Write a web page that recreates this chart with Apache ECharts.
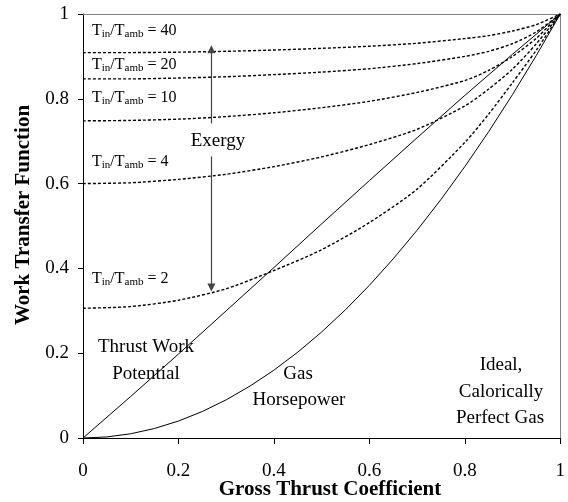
<!DOCTYPE html>
<html>
<head>
<meta charset="utf-8">
<script src="https://cdn.jsdelivr.net/npm/echarts@6/dist/echarts.min.js"></script>
<style>
  html, body { margin: 0; padding: 0; background: #fff; }
  #chart { width: 568px; height: 502px; }
</style>
</head>
<body>
<div id="chart"></div>
<script>
// Gross thrust coefficient sample points
const cfgGrid = [0, 0.1, 0.2, 0.3, 0.4, 0.5, 0.6, 0.7, 0.8, 0.85, 0.9, 0.95, 1];
const cfgFine = [0, 0.05, 0.1, 0.15, 0.2, 0.25, 0.3, 0.35, 0.4, 0.45, 0.5,
                 0.55, 0.6, 0.65, 0.7, 0.75, 0.8, 0.85, 0.9, 0.95, 1];
const cfgLine = [0, 0.1, 0.2, 0.3, 0.4, 0.5, 0.6, 0.7, 0.8, 0.9, 1];

// Exergy-based work transfer for several inlet/ambient temperature ratios
const ratio2  = [0.306, 0.310, 0.325, 0.352, 0.395, 0.444, 0.508, 0.587, 0.697, 0.764, 0.838, 0.915, 1];
const ratio4  = [0.600, 0.602, 0.610, 0.622, 0.640, 0.663, 0.692, 0.728, 0.783, 0.823, 0.870, 0.930, 1];
const ratio10 = [0.748, 0.749, 0.752, 0.758, 0.767, 0.779, 0.794, 0.815, 0.843, 0.867, 0.900, 0.943, 1];
const ratio20 = [0.847, 0.847, 0.849, 0.852, 0.857, 0.863, 0.871, 0.883, 0.900, 0.912, 0.930, 0.958, 1];
const ratio40 = [0.909, 0.909, 0.910, 0.912, 0.915, 0.919, 0.924, 0.931, 0.942, 0.949, 0.960, 0.975, 1];

// Thrust work potential (solid, near-linear)
const thrustWork = [0, 0.098, 0.198, 0.300, 0.402, 0.505, 0.607, 0.708, 0.808, 0.905, 1];
// Gas horsepower (solid, parabolic)
const gasHorsepower = [0, 0.0025, 0.01, 0.0225, 0.04, 0.0625, 0.09, 0.1225, 0.16, 0.2025, 0.25,
                       0.3025, 0.36, 0.4225, 0.49, 0.5625, 0.64, 0.7225, 0.81, 0.9025, 1];

// "Exergy" arrows: [x, yFrom, yTo]
const arrowUp   = [0.269, 0.742, 0.917];
const arrowDown = [0.269, 0.664, 0.355];

const ratioLabels = ['40', '20', '10', '4', '2'];

const FONT = 'Liberation Serif';

function pairs(xs, ys) { return xs.map((x, i) => [x, ys[i]]); }

const dashedStyle = { color: '#000', width: 1.4, type: [3, 2] };

function dottedSeries(ys) {
  return {
    type: 'line', data: pairs(cfgGrid, ys), showSymbol: false, smooth: 0.25,
    lineStyle: dashedStyle, silent: true
  };
}

const chart = echarts.init(document.getElementById('chart'), null, { renderer: 'canvas' });

const ratioLabelY = [31, 65, 98, 162, 279];

const graphics = ratioLabels.map((r, i) => ({
  type: 'text', x: 92, y: ratioLabelY[i], silent: true,
  style: {
    text: '{t|T}{s|in}{t|/T}{s|amb}{t| = ' + r + '}',
    textAlign: 'left', textVerticalAlign: 'middle',
    rich: {
      t: { fontFamily: FONT, fontSize: 16, fill: '#000', lineHeight: 18, verticalAlign: 'middle' },
      s: { fontFamily: FONT, fontSize: 11, fill: '#000', lineHeight: 18, verticalAlign: 'bottom' }
    }
  }
}));

function note(text, x, y, size, weight, rot) {
  return {
    type: 'text', x: x, y: y, rotation: rot || 0, silent: true,
    style: {
      text: text, fill: '#000', textAlign: 'center', textVerticalAlign: 'middle',
      font: (weight || 'normal') + ' ' + size + 'px "' + FONT + '"'
    }
  };
}

graphics.push(
  note('Exergy', 218, 141, 19),
  note('Thrust Work', 146, 347, 19),
  note('Potential', 146, 374, 19),
  note('Gas', 298, 374, 19),
  note('Horsepower', 299, 400, 19),
  note('Ideal,', 501, 365, 19),
  note('Calorically', 501, 392, 19),
  note('Perfect Gas', 500, 418, 19),
  note('Gross Thrust Coefficient', 330, 490, 21, 'bold'),
  note('Work Transfer Function', 24, 215, 21, 'bold', Math.PI / 2)
);

const axisText = { fontFamily: FONT, fontSize: 19, color: '#000' };

chart.setOption({
  animation: false,
  backgroundColor: '#fff',
  grid: { left: 83, right: 6, top: 14, bottom: 64 },
  xAxis: [{
    type: 'value', min: 0, max: 1, interval: 0.2, position: 'bottom',
    axisLine: { show: true, onZero: false, lineStyle: { color: '#000', width: 1 } },
    axisTick: { show: true, inside: false, length: 6, lineStyle: { color: '#000' } },
    axisLabel: Object.assign({ margin: 24 }, axisText),
    splitLine: { show: false }
  }, {
    type: 'value', min: 0, max: 1, position: 'top',
    axisLine: { show: true, onZero: false, lineStyle: { color: '#808080', width: 1 } },
    axisTick: { show: false }, axisLabel: { show: false }, splitLine: { show: false }
  }],
  yAxis: [{
    type: 'value', min: 0, max: 1, interval: 0.2, position: 'left',
    axisLine: { show: true, onZero: false, lineStyle: { color: '#000', width: 1 } },
    axisTick: { show: true, inside: false, length: 5, lineStyle: { color: '#000' } },
    axisLabel: Object.assign({ margin: 14 }, axisText),
    splitLine: { show: false }
  }, {
    type: 'value', min: 0, max: 1, position: 'right',
    axisLine: { show: true, onZero: false, lineStyle: { color: '#808080', width: 1 } },
    axisTick: { show: false }, axisLabel: { show: false }, splitLine: { show: false }
  }],
  series: [
    dottedSeries(ratio40),
    dottedSeries(ratio20),
    dottedSeries(ratio10),
    dottedSeries(ratio4),
    dottedSeries(ratio2),
    {
      type: 'line', data: pairs(cfgLine, thrustWork), showSymbol: false, silent: true,
      lineStyle: { color: '#000', width: 1 }
    },
    {
      type: 'line', data: pairs(cfgFine, gasHorsepower), showSymbol: false, silent: true,
      lineStyle: { color: '#000', width: 1 },
      markLine: {
        silent: true, symbol: ['none', 'triangle'], symbolSize: 8,
        label: { show: false },
        lineStyle: { color: '#444', width: 1.2, type: 'solid' },
        data: [
          [{ coord: [arrowUp[0], arrowUp[1]] }, { coord: [arrowUp[0], arrowUp[2]] }],
          [{ coord: [arrowDown[0], arrowDown[1]] }, { coord: [arrowDown[0], arrowDown[2]] }]
        ]
      }
    }
  ],
  graphic: graphics
});
</script>
</body>
</html>
